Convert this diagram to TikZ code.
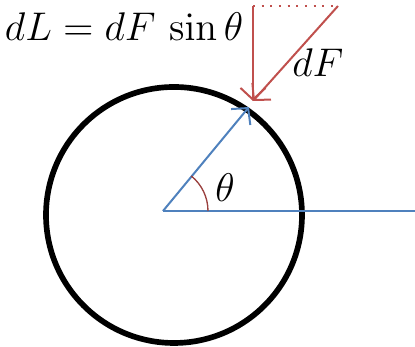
\documentclass[tikz,border=0pt]{standalone}
\usepackage{amsmath,amssymb}
\usepackage{xcolor}
\usepackage{tikz}
\usetikzlibrary{arrows.meta}
\definecolor{AzulRadio}{RGB}{79,129,189}
\definecolor{RojoFuerza}{RGB}{192,80,77}

\begin{document}
\begin{tikzpicture}[x=0.3pt, y=0.3pt, >={Straight Barb[length=3.5pt,width=7.5pt]}]
    \useasboundingbox (0,0) rectangle (415,347);
    \coordinate (O) at (163,136);
    \coordinate (C) at (174,132);
    \coordinate (P) at (249,240);
    \coordinate (A) at (253,246);
    \coordinate (T) at (253,341);
    \coordinate (Q) at (338,341);
    \coordinate (E) at (415,136);

    \draw[line width=1.7pt] (C) circle[radius=128];
    \draw[semithick,AzulRadio] (O) -- (E);
    \draw[->,semithick,AzulRadio] (O) -- (P);
    \draw[thin,RojoFuerza!80!black] (O) ++(45,0) arc[start angle=0, end angle=51, radius=45];
    \node (th) at (225,159) {\large$\theta$};

    \draw[RojoFuerza,dotted,semithick] (T) -- (Q);
    \draw[->,semithick,RojoFuerza] (T) -- (A);
    \draw[->,semithick,RojoFuerza] (Q) -- (A);
    \node[anchor=east] (dL) at (255,320) {\large$dL = dF\,\sin\theta$};
    \node (dF) at (318,284) {\large$dF$};
\end{tikzpicture}
\end{document}
